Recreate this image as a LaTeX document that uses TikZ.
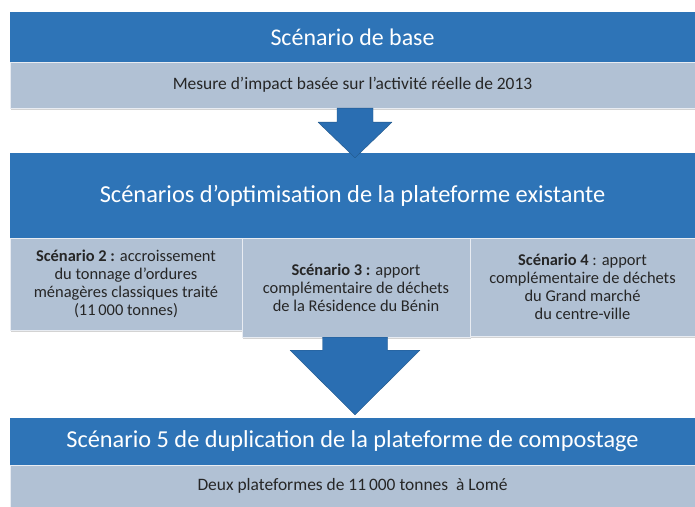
\documentclass[tikz,border=0pt]{standalone}
\usepackage{fontspec}
\setmainfont{Carlito}
\usetikzlibrary{calc,shadows}
\definecolor{hdrblue}{RGB}{46,116,183}
\definecolor{subgray}{RGB}{177,193,212}
\definecolor{arrblue}{RGB}{42,110,178}

\begin{document}
\begin{tikzpicture}[
    x=1bp, y=-1bp,
    header/.style={fill=hdrblue, text=white, minimum width=685bp, inner sep=0pt, font=\fontsize{24}{28}\selectfont},
    subbox/.style={fill=subgray, draw=white!70!subgray, minimum width=685bp, inner sep=0pt, text=black!85, font=\fontsize{17.5}{20}\selectfont, drop shadow={opacity=.35, shadow xshift=1bp, shadow yshift=-2bp}},
    cell/.style={fill=subgray, draw=white!70!subgray, inner sep=0pt, align=center, text=black!85, font=\fontsize{16.5}{18}\selectfont, drop shadow={opacity=.35, shadow xshift=1bp, shadow yshift=-2bp}},
    flow/.style={fill=arrblue, draw=hdrblue!75!black, line join=round}
  ]
    \useasboundingbox (0,0) rectangle (695,507);

    \node[header, minimum height=50bp] (base) at (352.5,37) {Scénario de base};
    \node[subbox, minimum height=46bp] (basesub) at (352.5,85) {Mesure d’impact basée sur l’activité réelle de 2013};

    \node[header, minimum height=85bp, font=\fontsize{24.5}{29}\selectfont] (optim) at (352.5,195.5) {Scénarios d’optimisation de la plateforme existante};
    \node[cell, minimum width=232bp, minimum height=92bp] (scen2) at (126,284) {\textbf{Scénario 2 :} accroissement\\du tonnage d’ordures\\ménagères classiques traité\\(11\,000 tonnes)};
    \node[cell, minimum width=228bp, minimum height=99bp] (scen3) at (356,287.5) {\textbf{Scénario 3 :} apport\\complémentaire de déchets\\de la Résidence du Bénin};
    \node[cell, minimum width=225bp, minimum height=98bp] (scen4) at (582.5,287) {\textbf{Scénario 4} : apport\\complémentaire de déchets\\du Grand marché\\du centre-ville};

    \node[header, minimum height=47bp, font=\fontsize{24.4}{29}\selectfont] (dupli) at (352.5,441.5) {Scénario 5 de duplication de la plateforme de compostage};
    \node[subbox, minimum height=42bp] (duplisub) at (352.5,486) {Deux plateformes de 11\,000 tonnes\ \ à Lomé};

    \coordinate (a1) at ($(basesub.south)+(2.5,0)$);
    \draw[flow] ($(a1)+(-18,0)$) -- ++(0,14) -- ++(-19,0) -- ($(optim.north)+(2.5,5)$) -- ($(a1)+(37,14)$) -- ++(-19,0) -- ($(a1)+(18,0)$) -- cycle;

    \coordinate (a2) at ($(scen3.south)+(-1,0)$);
    \draw[flow] ($(a2)+(-32.5,0)$) -- ++(0,13) -- ++(-32.5,0) -- ($(dupli.north)+(2.5,-3)$) -- ($(a2)+(65,13)$) -- ++(-32.5,0) -- ($(a2)+(32.5,0)$) -- cycle;
  \end{tikzpicture}
\end{document}
